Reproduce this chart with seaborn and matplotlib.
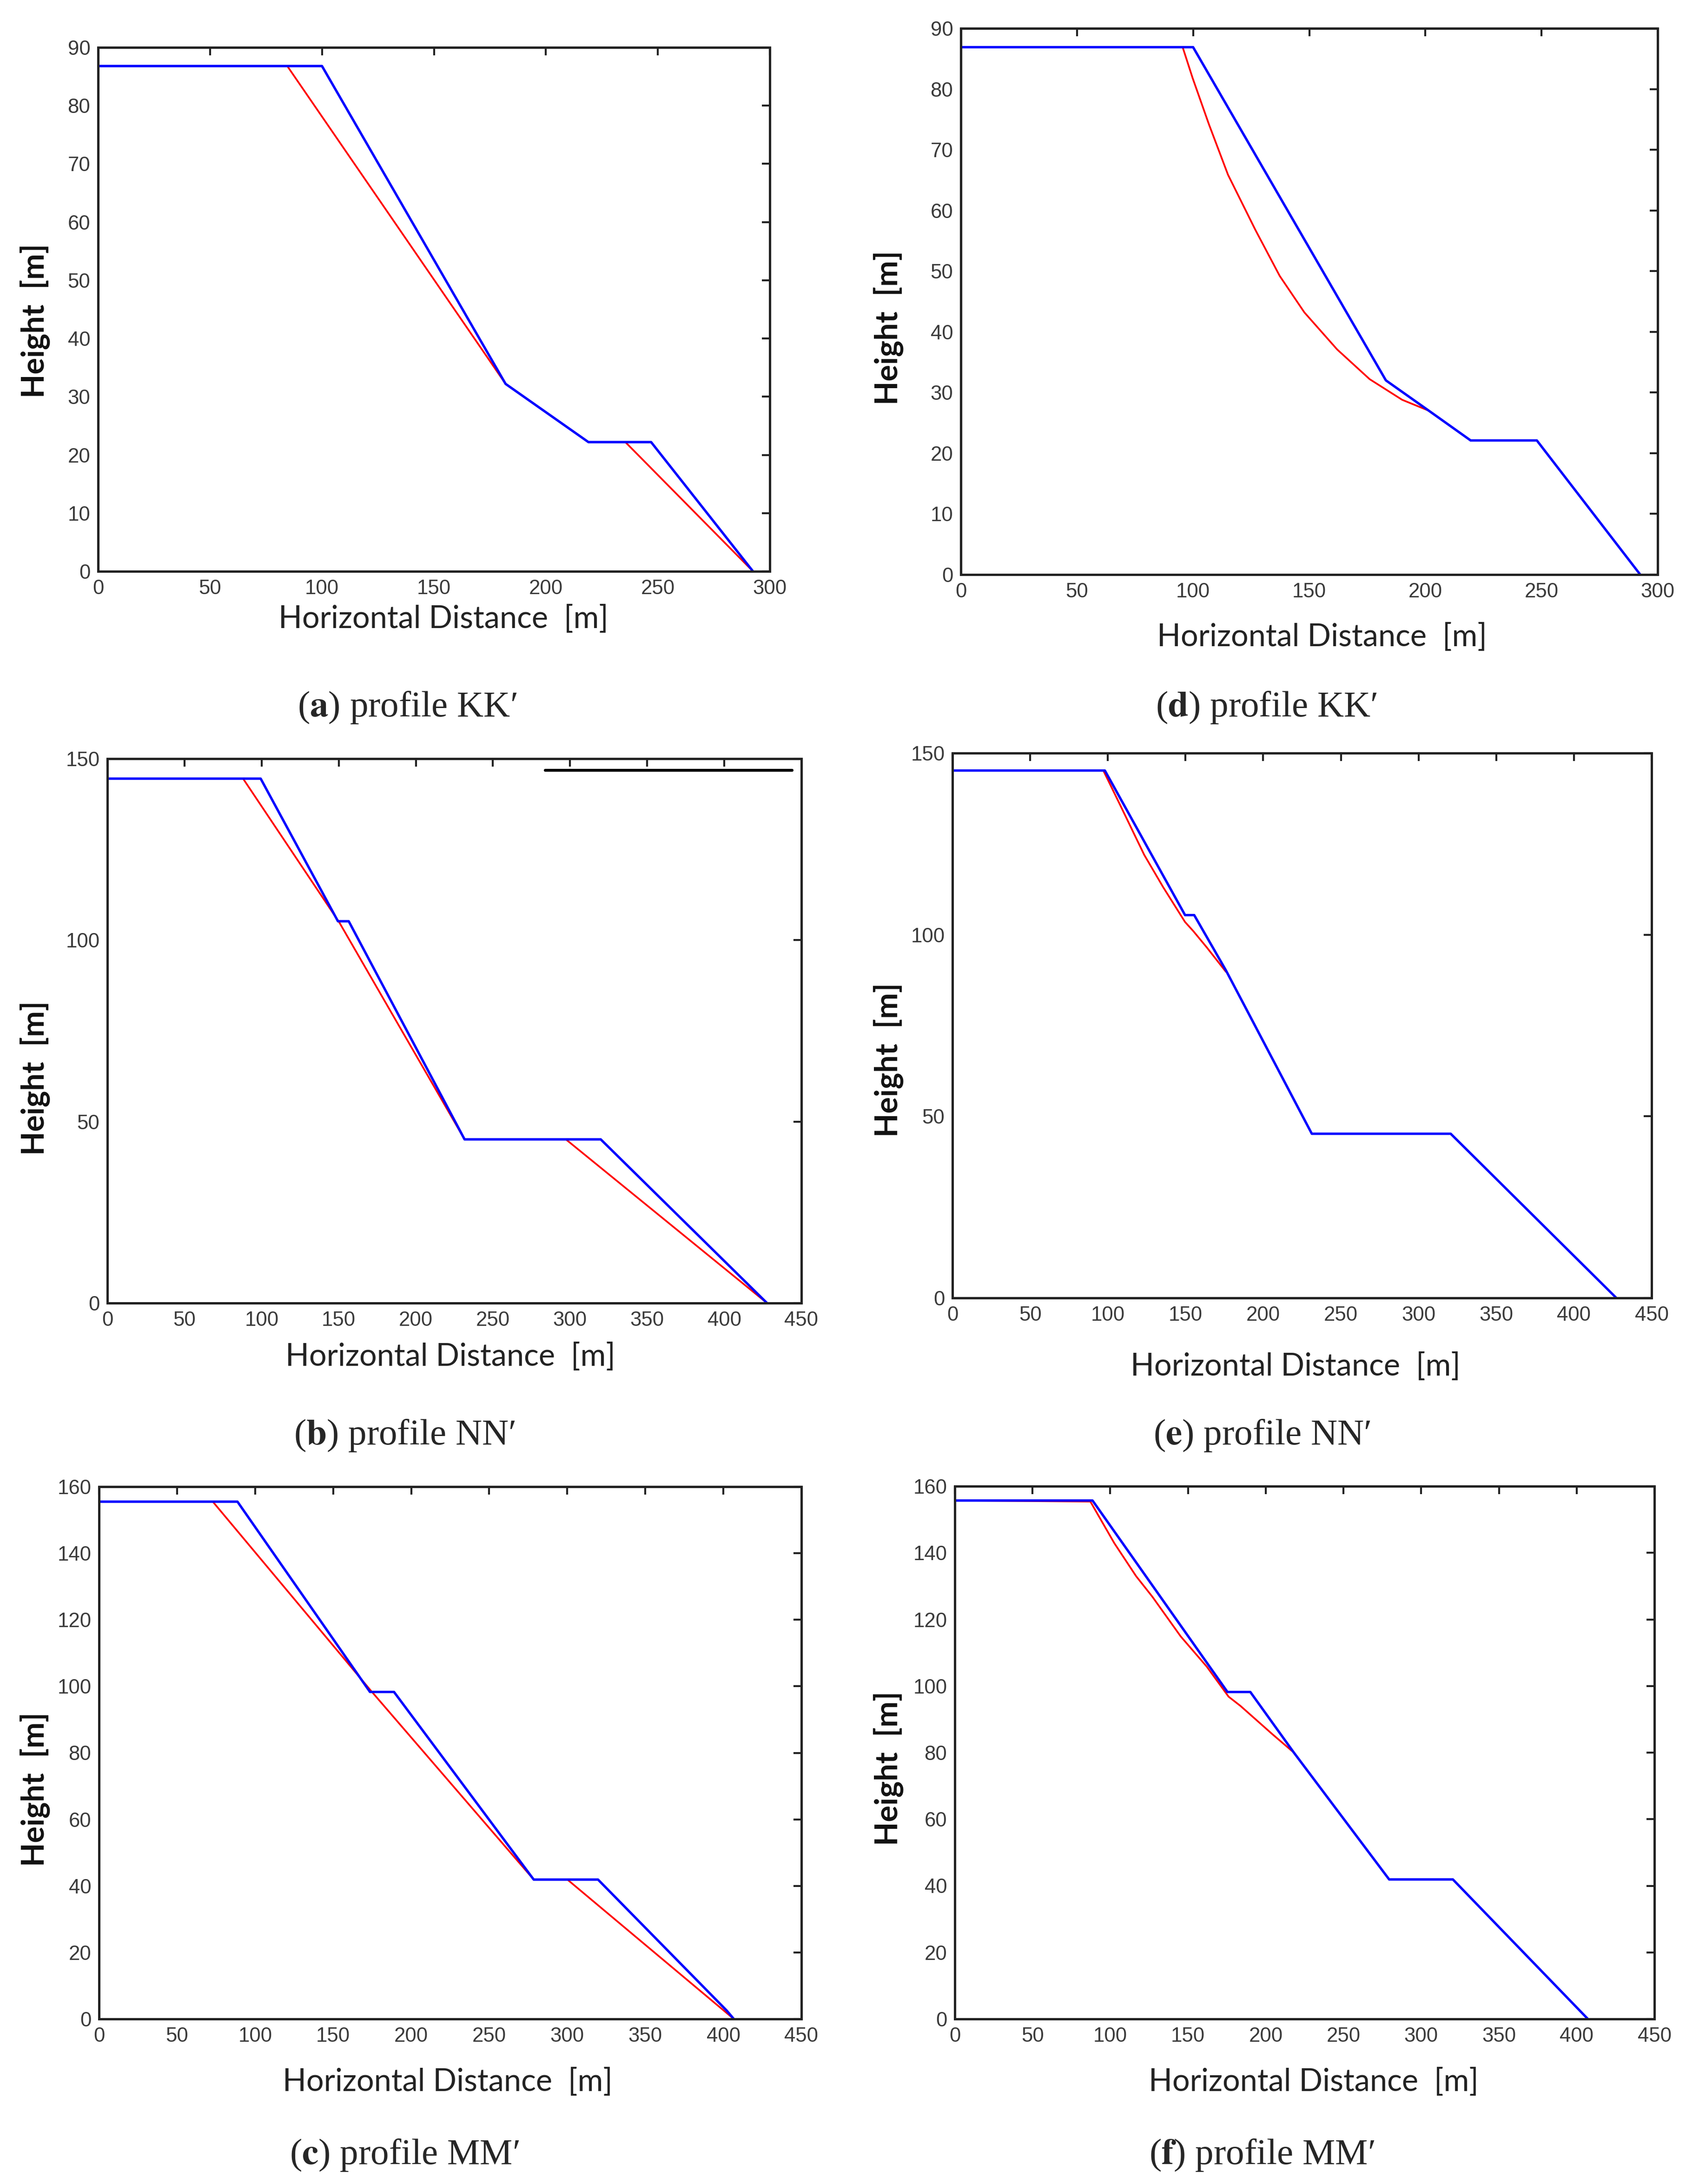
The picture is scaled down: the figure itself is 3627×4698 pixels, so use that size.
import matplotlib
matplotlib.use('Agg')
import matplotlib.pyplot as plt
import seaborn as sns

# ---- data (x = horizontal distance [m], y = height [m]) ----
# (a) profile KK'
a_blue_x = [0, 100, 182, 219, 247, 292.5]
a_blue_y = [86.8, 86.8, 32.2, 22.2, 22.2, 0]
a_red_x = [0, 84.5, 182, 219, 235.5, 292.5]
a_red_y = [86.8, 86.8, 32.2, 22.2, 22.2, 0]

# (d) profile KK'
d_blue_x = [0, 100, 183, 201.5, 219.5, 248, 292.5]
d_blue_y = [86.9, 86.9, 32.0, 27.0, 22.1, 22.1, 0]
d_red_x = [0, 95.5, 99.8, 106.8, 115, 126.8, 137.3, 147.9, 162, 176, 190, 201.5]
d_red_y = [86.9, 86.9, 81.8, 74.2, 65.9, 56.8, 49.2, 43.2, 37.1, 32.2, 28.8, 27.0]

# (b) profile NN'
b_blue_x = [0, 99.4, 149.5, 156.5, 231.6, 319.9, 427.7]
b_blue_y = [144.5, 144.5, 105.2, 105.2, 45.1, 45.1, 0]
b_red_x = [0, 88, 150.5, 231.6, 297.3, 427.7]
b_red_y = [144.5, 144.5, 104.8, 45.1, 45.1, 0]
b_black_x = [284, 444]
b_black_y = [146.8, 146.8]

# (e) profile NN'
e_blue_x = [0, 98.1, 149.7, 155.6, 176, 231.3, 320.7, 427.3]
e_blue_y = [145.2, 145.2, 105.4, 105.4, 90.2, 45.2, 45.2, 0]
e_red_x = [0, 97.1, 107.6, 123.4, 135.6, 149.7, 155, 163.7, 176]
e_red_y = [145.2, 145.2, 136, 122, 113.1, 103.5, 101, 96.5, 89.8]

# (c) profile MM'
c_blue_x = [0, 88.7, 173.6, 189, 278.5, 319.7, 402.2, 406.7]
c_blue_y = [155.5, 155.5, 98.3, 98.3, 41.9, 41.9, 2.5, 0]
c_red_x = [0, 72.9, 173.6, 278.5, 300.1, 406.7]
c_red_y = [155.5, 155.5, 99.0, 41.9, 41.9, 0]

# (f) profile MM'
f_blue_x = [0, 88.6, 175.4, 190.1, 218.1, 279.4, 320.4, 407.2]
f_blue_y = [155.7, 155.7, 98.2, 98.2, 80, 41.9, 41.9, 0]
f_red_x = [0, 87.2, 102.6, 116.6, 127.1, 145.3, 162.1, 176.1, 183.8, 204.1, 218.1]
f_red_y = [155.7, 155.4, 142.9, 133, 126.8, 114.9, 105.8, 96.8, 94, 85.6, 80]

x_ticks_kk = [0, 50, 100, 150, 200, 250, 300]
x_ticks_wide = [0, 50, 100, 150, 200, 250, 300, 350, 400, 450]
y_ticks_kk = [0, 10, 20, 30, 40, 50, 60, 70, 80, 90]
y_ticks_nn = [0, 50, 100, 150]
y_ticks_mm = [0, 20, 40, 60, 80, 100, 120, 140, 160]

sns.set_style('white')
plt.rcParams['mathtext.fontset'] = 'stix'

W, H = 3627, 4698
fig = plt.figure(figsize=(W / 300, H / 300), dpi=300)

tick_font = ['Liberation Sans Narrow', 'Liberation Sans', 'DejaVu Sans']
label_font = ['Lato', 'DejaVu Sans']
cap_font = ['Liberation Serif', 'DejaVu Serif']


def panel(box, xlim, xticks, ylim, yticks, blue, red, letter, name,
          xlab_pos, ylab_pos, cap_pos, extra=None):
    l, r, t, b = box
    ax = fig.add_axes([l / W, 1 - b / H, (r - l) / W, (b - t) / H])
    sns.lineplot(x=red[0], y=red[1], sort=False, estimator=None,
                 color='#ff0000', lw=0.9, ax=ax)
    sns.lineplot(x=blue[0], y=blue[1], sort=False, estimator=None,
                 color='#0000ff', lw=1.25, ax=ax)
    if extra is not None:
        sns.lineplot(x=extra[0], y=extra[1], sort=False, estimator=None,
                     color='black', lw=1.5, ax=ax, clip_on=False)
    ax.set_xlim(*xlim)
    ax.set_ylim(*ylim)
    ax.set_xticks(xticks)
    ax.set_yticks(yticks)
    ax.set_xlabel('')
    ax.set_ylabel('')
    for s in ax.spines.values():
        s.set_visible(True)
        s.set_color('#222222')
        s.set_linewidth(1.2)
    ax.tick_params(direction='in', top=True, right=True, length=4, width=1.0,
                   labelsize=10.5, labelcolor='#3a3a3a', color='#222222', pad=4)
    for lab in ax.get_xticklabels() + ax.get_yticklabels():
        lab.set_family(tick_font)

    fig.text(xlab_pos[0] / W, 1 - xlab_pos[1] / H, 'Horizontal Distance  [m]',
             ha='center', va='center', fontsize=16, family=label_font,
             color='#222222')
    fig.text(ylab_pos[0] / W, 1 - ylab_pos[1] / H, 'Height  [m]',
             ha='center', va='center', fontsize=16, family=label_font,
             fontweight='bold', rotation=90, color='#111111')
    fig.text(cap_pos[0] / W, 1 - cap_pos[1] / H,
             '($\\mathbf{' + letter + '}$) profile ' + name,
             ha='center', va='center', fontsize=19, family=cap_font)
    return ax


panel((211, 1656, 102, 1229), (0, 300), x_ticks_kk, (0, 90), y_ticks_kk,
      (a_blue_x, a_blue_y), (a_red_x, a_red_y), 'a', 'KK\u2032',
      (954, 1332), (75, 690), (876, 1521))
panel((2067, 3566, 61, 1236), (0, 300), x_ticks_kk, (0, 90), y_ticks_kk,
      (d_blue_x, d_blue_y), (d_red_x, d_red_y), 'd', 'KK\u2032',
      (2844, 1371), (1911, 705), (2724, 1521))
panel((231, 1724, 1632, 2803), (0, 450), x_ticks_wide, (0, 150), y_ticks_nn,
      (b_blue_x, b_blue_y), (b_red_x, b_red_y), 'b', 'NN\u2032',
      (969, 2919), (75, 2319), (870, 3087), extra=(b_black_x, b_black_y))
panel((2049, 3553, 1620, 2792), (0, 450), x_ticks_wide, (0, 150), y_ticks_nn,
      (e_blue_x, e_blue_y), (e_red_x, e_red_y), 'e', 'NN\u2032',
      (2787, 2940), (1911, 2280), (2715, 3087))
panel((213, 1724, 3198, 4343), (0, 450), x_ticks_wide, (0, 160), y_ticks_mm,
      (c_blue_x, c_blue_y), (c_red_x, c_red_y), 'c', 'MM\u2032',
      (963, 4479), (75, 3849), (870, 4635))
panel((2054, 3559, 3197, 4343), (0, 450), x_ticks_wide, (0, 160), y_ticks_mm,
      (f_blue_x, f_blue_y), (f_red_x, f_red_y), 'f', 'MM\u2032',
      (2826, 4479), (1911, 3804), (2715, 4635))

fig.savefig('out.png', dpi=300, facecolor='white')
